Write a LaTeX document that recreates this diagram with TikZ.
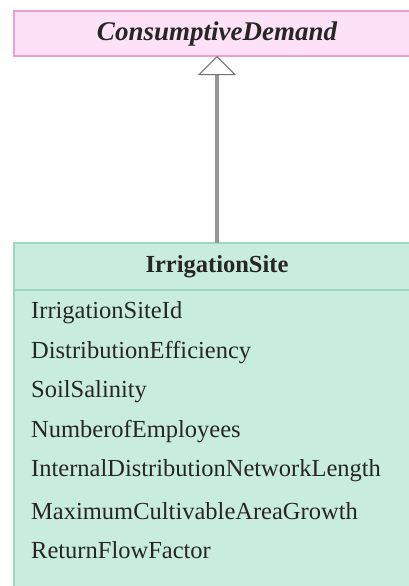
\documentclass[tikz,border=0pt]{standalone}
\usepackage{fontspec}
\setmainfont{Liberation Serif}
\usetikzlibrary{arrows.meta}
\definecolor{pinkfill}{RGB}{253,225,247}
\definecolor{pinkdraw}{RGB}{236,160,208}
\definecolor{greenfill}{RGB}{201,237,220}
\definecolor{greendraw}{RGB}{160,216,190}
\definecolor{linegray}{RGB}{150,150,150}
\tikzset{
  classbox/.style={draw=#1, line width=1.5pt, inner sep=0pt},
  attr/.style={anchor=west, inner sep=0pt, font=\fontsize{24.5}{28}\selectfont, text=black!85},
  title/.style={inner sep=0pt, font=\fontsize{24.5}{28}\selectfont\bfseries, text=black!85},
  inherit/.style={draw=linegray, line width=3.5pt, -{Triangle[open, width=38pt, length=19pt, line width=1pt, color=black!55, fill=white]}}
}
\begin{document}
\begin{tikzpicture}[x=1pt,y=-1pt]
\useasboundingbox (0,0) rectangle (408,586);
% ConsumptiveDemand
\filldraw[fill=pinkfill, classbox=pinkdraw] (14,11) rectangle (412,56);
\node[title, font=\fontsize{27}{30}\selectfont\bfseries\itshape] (cd) at (217,34) {ConsumptiveDemand};
\coordinate (cdb) at (217,56);
% IrrigationSite
\filldraw[fill=greenfill, classbox=greendraw] (14,243) rectangle (412,590);
\draw[greendraw, line width=1.5pt] (14,290) -- (412,290);
\node[title] (is) at (217,267) {IrrigationSite};
\coordinate (ist) at (217,243);
\node[attr] (a1) at (31,313) {IrrigationSiteId};
\node[attr] (a2) at (31,353) {DistributionEfficiency};
\node[attr] (a3) at (31,392) {SoilSalinity};
\node[attr] (a4) at (31,432) {NumberofEmployees};
\node[attr] (a5) at (31,471) {InternalDistributionNetworkLength};
\node[attr] (a6) at (31,511) {MaximumCultivableAreaGrowth};
\node[attr] (a7) at (31,550) {ReturnFlowFactor};
% generalization
\draw[inherit] (ist) -- (cdb);
\end{tikzpicture}
\end{document}
